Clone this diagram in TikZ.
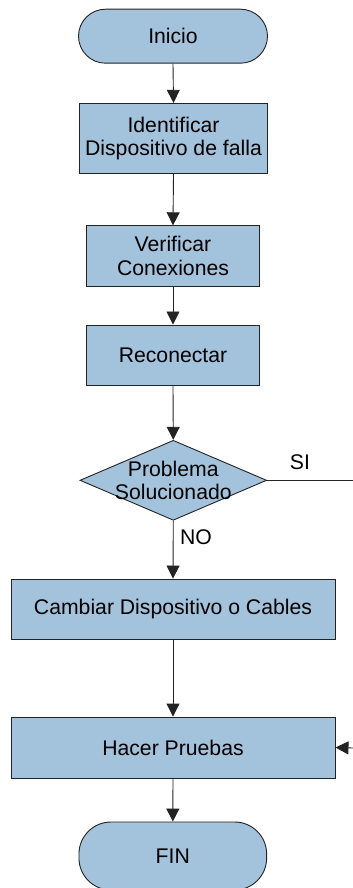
\documentclass[tikz,border=0pt]{standalone}
\usepackage{fontspec}
\setmainfont{Liberation Sans}
\usetikzlibrary{shapes.geometric,arrows.meta}
\definecolor{boxfill}{RGB}{163,194,219}
\definecolor{edge}{RGB}{35,35,35}
\tikzset{
  base/.style={draw=edge, line width=0.9pt, fill=boxfill, inner sep=0pt,
    font=\fontsize{21.2}{23.5}\selectfont, align=center},
  procbox/.style={base, rectangle},
  termbox/.style={base, rectangle, rounded corners=27pt},
  decbox/.style={base, diamond},
  conn/.style={draw=edge, line width=0.9pt},
  arr/.style={conn, -{Triangle[width=13pt,length=13pt]}},
  lbl/.style={font=\fontsize{21.2}{23.5}\selectfont, inner sep=0pt}
}
\begin{document}
\begin{tikzpicture}[x=1pt,y=-1pt]
\useasboundingbox (0,0) rectangle (353,888);
\node[termbox, minimum width=189pt, minimum height=54pt] (ini) at (173,36.2) {Inicio};
\node[procbox, minimum width=188.4pt, minimum height=70.4pt] (ident) at (173.5,138.5) {Identificar\\Dispositivo de falla};
\node[procbox, minimum width=172.6pt, minimum height=60.3pt] (verif) at (173,255.9) {Verificar\\Conexiones};
\node[procbox, minimum width=172.6pt, minimum height=60.7pt] (recon) at (173,355.3) {Reconectar};
\node[decbox, minimum width=186.7pt, minimum height=80pt] (dec) at (173.3,480.3) {};
\node[lbl, align=center] (dectext) at (173.3,480.3) {Problema\\Solucionado};
\node[procbox, minimum width=324pt, minimum height=60pt] (camb) at (173,609) {Cambiar Dispositivo o Cables};
\node[procbox, minimum width=324pt, minimum height=61pt] (hacer) at (173,747.5) {Hacer Pruebas};
\node[termbox, rounded corners=32pt, minimum width=187.7pt, minimum height=68pt] (fin) at (172.8,856) {FIN};
\coordinate (siend) at (353,480.3);
\coordinate (retstart) at (353,748);
\draw[arr] (ini.south) -- (ident.north);
\draw[arr] (ident.south) -- (verif.north);
\draw[arr] (verif.south) -- (recon.north);
\draw[arr] (recon.south) -- (dec.north);
\draw[arr] (dec.south) -- (camb.north);
\draw[arr] (camb.south) -- (hacer.north);
\draw[arr] (hacer.south) -- (fin.north);
\draw[conn] (dec.east) -- (siend);
\draw[arr] (retstart) -- (hacer.east);
\node[lbl] (si) at (300,462) {SI};
\node[lbl] (no) at (196,537) {NO};
\end{tikzpicture}
\end{document}
